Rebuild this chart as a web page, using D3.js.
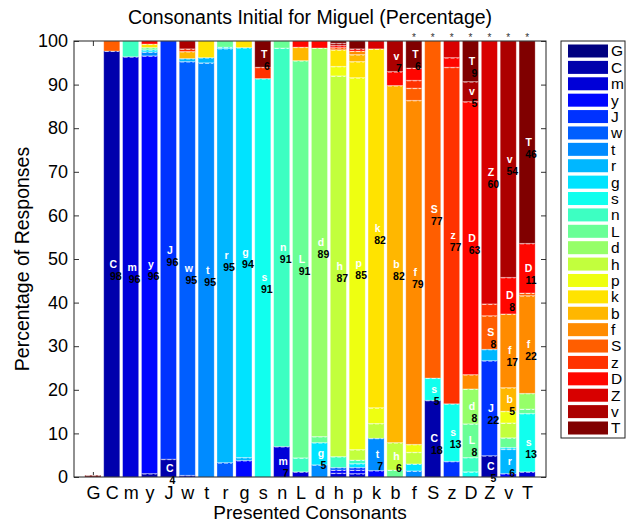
<!DOCTYPE html>
<html>
<head>
<meta charset="utf-8">
<script src="https://cdn.jsdelivr.net/npm/d3@7"></script>
<style>
  html, body { margin: 0; padding: 0; background: #fff; }
  svg { display: block; font-family: "Liberation Sans", Arial, Helvetica, sans-serif; }
</style>
</head>
<body>
<svg id="chart" width="629" height="527"></svg>
<script>
// ---- data ----
const presented = ["G","C","m","y","J","w","t","r","g","s","n","L","d","h","p","k","b","f","S","z","D","Z","v","T"];
const responses = ["G","C","m","y","J","w","t","r","g","s","n","L","d","h","p","k","b","f","S","z","D","Z","v","T"];
const yTicks = [0,10,20,30,40,50,60,70,80,90,100];
// asterisk marks above the presented consonants
const significant = [0,0,0,0,0,0,0,0,0,0,0,0,0,0,0,0,0,1,1,1,1,1,1,1];

// percentage of responses per response consonant (one value per presented consonant)
const resp_G = [0,0,0,0,0,0,0,0,0,0,0,0,0,0,0,0,0,0,0,0,0,0,0,0];
const resp_C = [0,97.7,0,0.8,4.1,0,0,0,0,0,0,0,0,0,0,0,0,0,17.6,0,0,4.9,0,0];
const resp_m = [0,0,96.4,0,0,0.4,0,0,0,0,7,1.2,0,0.9,0.8,0,0,0,0,0,0,0,0,1.2];
const resp_y = [0,0,0,95.8,0,0,0,0,3.8,0,0,0,0,0.7,0.8,1.5,0,0,0,0,0,0,0.8,0];
const resp_J = [0,0,0,0,95.9,0,0,0,0,0,0,0,0,0,0.6,0,0,0,0,3.6,0,21.8,0,0];
const resp_w = [0,0,0,0,0,94.9,0,3.3,0,0,0,0,0,0.6,0,0,0,0,0,0,0,0,0,0];
const resp_t = [0,0,0,0.9,0,0,95,0,0,0,0,0,2.8,0,0,7.4,0,1.4,0,0,0,0,0,0];
const resp_r = [0,0,0,0,0,0.7,1.2,95,0.7,0,0,0,0,0,0,0,0,0,0,0,0,2.6,5.6,0];
const resp_g = [0,0,0,0.5,0,0,0,0.3,94,0,0,0,5.1,0,0.9,0,0,1.6,0,0,0,0,0.4,0];
const resp_s = [0,0,0,0,0,0,0,0,0,91.4,0,0,0,0,0,0,0,0,5.1,13.2,1.2,0,0,13.4];
const resp_n = [0,0,3.6,0,0,0,0,0,0,0,91.4,3.2,0,2.5,0.8,0,0,0,0,0,3.3,0,0,0];
const resp_L = [0,0,0,0.5,0,0,0,1.4,0,0,1.6,91.1,1.4,0,0,0,1.6,0,0,0,7.7,0,2.2,1];
const resp_d = [0,0,0,0,0,0,0,0,0,0,0,0,89.1,0,0,0,0,0,0,0,8,0,0,3.6];
const resp_h = [0,0,0,0,0,0,0,0,0,0,0,0,0,87.3,2.4,3.4,6.3,2.7,0,0,0,0,3.4,0];
const resp_p = [0,0,0,0,0,0,0,0,0,0,0,0,0,2.2,85.3,3.6,0,1.8,0,0,0,0,2.7,0];
const resp_k = [0,0,0,0.8,0,0,3.8,0,1.5,0,0,0,0,3.8,3.7,82.3,0,0,0,0,0,0,0,0];
const resp_b = [0,0,0,0,0,1.6,0,0,0,0,0,3.1,0,0,1.6,0,81.9,0,0,0,0,0,5.4,0];
const resp_f = [0,0,0,0,0,0,0,0,0,0,0,0,0,0,0.8,0,0,78.9,0,0,3.3,0,16.9,22.4];
const resp_S = [0,2.3,0,0,0,0,0,0,0,0,0,0,0,0.5,0,0,0,2.8,77.3,0,0,7.7,0,0.6];
const resp_z = [0,0,0,0,0,0.6,0,0,0,2.6,0,0,0,0,0,0,0,1.8,0,77.2,0,2.7,0,0];
const resp_D = [0,0,0,0.7,0,0,0,0,0,0,0,1.4,1.6,0.5,0.5,0,3.2,2.8,0,2.2,62.6,0,8.4,11.4];
const resp_Z = [0,0,0,0,0,0,0,0,0,0,0,0,0,0,0,1.8,0,0,0,3.8,0,60.3,0,0];
const resp_v = [0,0,0,0,0,1.8,0,0,0,0,0,0,0,0.5,0,0,7,0,0,0,4.6,0,54.2,0];
const resp_T = [0.4,0,0,0,0,0,0,0,0,6,0,0,0,0.5,1.8,0,0,6.2,0,0,9.3,0,0,46.4];

const seriesArrays = [resp_G,resp_C,resp_m,resp_y,resp_J,resp_w,resp_t,resp_r,resp_g,resp_s,resp_n,resp_L,
  resp_d,resp_h,resp_p,resp_k,resp_b,resp_f,resp_S,resp_z,resp_D,resp_Z,resp_v,resp_T];

// table for d3.stack
const table = presented.map((p, i) => {
  const row = { presented: p, idx: i + 1 };
  responses.forEach((r, j) => { row["k" + j] = seriesArrays[j][i]; });
  return row;
});
const keys = responses.map((r, j) => "k" + j);

// ---- styling / layout ----
function jet(t) {
  const c = v => Math.max(0, Math.min(1, v));
  const r = c(1.5 - Math.abs(4 * t - 3));
  const g = c(1.5 - Math.abs(4 * t - 2));
  const b = c(1.5 - Math.abs(4 * t - 1));
  return d3.rgb(r * 255, g * 255, b * 255).formatHex();
}
const color = d3.scaleOrdinal().domain(keys).range(keys.map((k, j) => jet(j / (keys.length - 1))));

const svg = d3.select("#chart");
const pLeft = 74, pRight = 546, pTop = 41, pBottom = 477;
const x = d3.scaleLinear().domain([0, presented.length + 1]).range([pLeft, pRight]);
const y = d3.scaleLinear().domain([0, 100]).range([pBottom, pTop]);
const barW = (x(1) - x(0)) * 0.85;

// ticks (under the bars)
const gTicks = svg.append("g");
gTicks.append("g").attr("transform", `translate(${pLeft},0)`)
  .call(d3.axisLeft(y).tickValues(yTicks).tickSizeInner(-5).tickSizeOuter(0).tickPadding(6))
  .call(g => g.select(".domain").remove())
  .call(g => g.selectAll("text").attr("font-size", 18).attr("fill", "#000"))
  .call(g => g.selectAll("line").attr("stroke", "#333"));
gTicks.append("g").attr("transform", `translate(${pRight},0)`)
  .call(d3.axisRight(y).tickValues(yTicks).tickSizeInner(-5).tickSizeOuter(0).tickFormat(""))
  .call(g => g.select(".domain").remove())
  .call(g => g.selectAll("line").attr("stroke", "#333"));
gTicks.append("g").attr("transform", `translate(0,${pTop})`)
  .call(d3.axisTop(x).tickValues(d3.range(1, presented.length + 1)).tickSizeInner(-5).tickSizeOuter(0).tickFormat(""))
  .call(g => g.select(".domain").remove())
  .call(g => g.selectAll("line").attr("stroke", "#333"));
gTicks.append("g").attr("transform", `translate(0,${pBottom})`)
  .call(d3.axisBottom(x).tickValues(d3.range(1, presented.length + 1)).tickSizeInner(-5).tickSizeOuter(0)
    .tickPadding(9).tickFormat(i => presented[i - 1]))
  .call(g => g.select(".domain").remove())
  .call(g => g.selectAll("text").attr("font-size", 18).attr("fill", "#000"))
  .call(g => g.selectAll("line").attr("stroke", "#333"));
gTicks.selectAll("g").attr("font-family", null);

// stacked bars
const stacked = d3.stack().keys(keys)(table);
const gBars = svg.append("g");
stacked.forEach(layer => {
  const gl = gBars.append("g").attr("fill", color(layer.key));
  const segs = layer.filter(d => d[1] - d[0] > 0);
  gl.selectAll("rect").data(segs).join("rect")
    .attr("x", d => x(d.data.idx) - barW / 2)
    .attr("width", barW)
    .attr("y", d => y(d[1]))
    .attr("height", d => Math.max(0.8, y(d[0]) - y(d[1])))
    .attr("stroke", "#fff").attr("stroke-opacity", 0.35).attr("stroke-width", 0.8);
  gl.selectAll("line").data(segs.filter(d => d[1] < 99.9)).join("line")
    .attr("x1", d => x(d.data.idx) - barW / 2 + 1)
    .attr("x2", d => x(d.data.idx) + barW / 2 - 1)
    .attr("y1", d => y(d[1]) + 0.5).attr("y2", d => y(d[1]) + 0.5)
    .attr("stroke", "#fff").attr("stroke-opacity", 0.75).attr("stroke-width", 1)
    .attr("stroke-dasharray", "4,2");
});

// segment labels
const gLab = svg.append("g").attr("font-weight", "bold").attr("font-size", 10.5);
stacked.forEach((layer, j) => {
  const segs = layer.filter(d => d[1] - d[0] >= 4);
  segs.forEach(d => {
    const cx = x(d.data.idx), cy = y((d[0] + d[1]) / 2);
    gLab.append("text").attr("x", cx + 1.5).attr("y", cy).attr("dy", "0.35em")
      .attr("text-anchor", "middle").attr("fill", "#fff").text(responses[j]);
    gLab.append("text").attr("x", cx + 4).attr("y", cy + 12).attr("dy", "0.35em")
      .attr("text-anchor", "middle").attr("fill", "#000").text(Math.round(d[1] - d[0]));
  });
});

// asterisks
svg.append("g").selectAll("text").data(presented.map((p, i) => ({ i: i + 1, s: significant[i] })).filter(d => d.s))
  .join("text").attr("x", d => x(d.i)).attr("y", pTop)
  .attr("text-anchor", "middle").attr("font-size", 10).attr("fill", "#333").text("*");

// frame
svg.append("rect").attr("x", pLeft).attr("y", pTop).attr("width", pRight - pLeft).attr("height", pBottom - pTop)
  .attr("fill", "none").attr("stroke", "#222").attr("stroke-width", 1);

// titles
svg.append("text").attr("x", (pLeft + pRight) / 2).attr("y", 24).attr("text-anchor", "middle")
  .attr("font-size", 19.5).text("Consonants Initial for Miguel (Percentage)");
svg.append("text").attr("x", (pLeft + pRight) / 2).attr("y", 519).attr("text-anchor", "middle")
  .attr("font-size", 19).text("Presented Consonants");
svg.append("text").attr("transform", `translate(29,${(pTop + pBottom) / 2}) rotate(-90)`)
  .attr("text-anchor", "middle").attr("font-size", 19.5).text("Percentage of Responses");

// legend
const lg = svg.append("g");
lg.append("rect").attr("x", 561).attr("y", 41).attr("width", 64).attr("height", 397)
  .attr("fill", "#fff").attr("stroke", "#222").attr("stroke-width", 1);
const ly = d3.scalePoint().domain(responses).range([51, 428]);
lg.selectAll("rect.sw").data(responses).join("rect").attr("class", "sw")
  .attr("x", 568).attr("width", 40).attr("y", r => ly(r) - 6.5).attr("height", 13)
  .attr("fill", (r, j) => color(keys[j]));
lg.selectAll("text").data(responses).join("text")
  .attr("x", 611).attr("y", r => ly(r)).attr("dy", "0.35em").attr("font-size", 15.5).text(r => r);
</script>
</body>
</html>
